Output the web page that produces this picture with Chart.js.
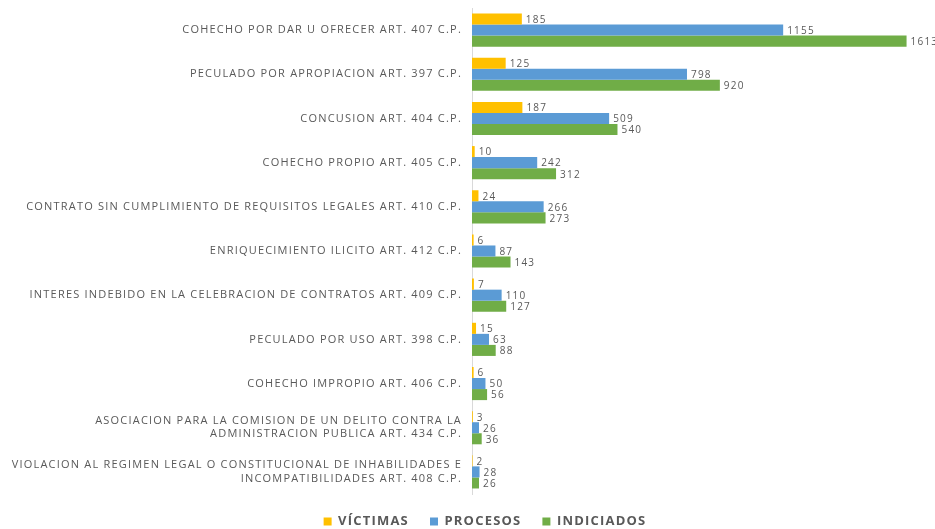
<!DOCTYPE html>
<html>
<head>
<meta charset="utf-8">
<script src="https://cdn.jsdelivr.net/npm/chart.js@4"></script>
<style>
  html, body { margin: 0; padding: 0; background: #fff; }
  #wrap { width: 935px; height: 529px; }
</style>
</head>
<body>
<div id="wrap"><canvas id="chart"></canvas></div>
<script>
// categories (top to bottom)
const categories = [
  'COHECHO POR DAR U OFRECER ART. 407 C.P.',
  'PECULADO POR APROPIACION ART. 397 C.P.',
  'CONCUSION ART. 404 C.P.',
  'COHECHO PROPIO ART. 405 C.P.',
  'CONTRATO SIN CUMPLIMIENTO DE REQUISITOS LEGALES ART. 410 C.P.',
  'ENRIQUECIMIENTO ILICITO ART. 412 C.P.',
  'INTERES INDEBIDO EN LA CELEBRACION DE CONTRATOS ART. 409 C.P.',
  'PECULADO POR USO ART. 398 C.P.',
  'COHECHO IMPROPIO ART. 406 C.P.',
  ['ASOCIACION PARA LA COMISION DE UN DELITO CONTRA LA', 'ADMINISTRACION PUBLICA ART. 434 C.P.'],
  ['VIOLACION AL REGIMEN LEGAL O CONSTITUCIONAL DE INHABILIDADES E', 'INCOMPATIBILIDADES ART. 408 C.P.']
];

const victimas   = [185, 125, 187, 10, 24, 6, 7, 15, 6, 3, 2];
const procesos   = [1155, 798, 509, 242, 266, 87, 110, 63, 50, 26, 28];
const indiciados = [1613, 920, 540, 312, 273, 143, 127, 88, 56, 36, 26];

// the original text is widely spaced
const spacing = {
  id: 'spacing',
  beforeLayout(chart) { chart.ctx.letterSpacing = '1.2px'; },
  beforeDraw(chart) { chart.ctx.letterSpacing = '1.2px'; },
  // legend sits a bit right of the canvas centre in the original
  afterLayout(chart) {
    chart.legend.left += 20;
    chart.legend.right += 20;
  }
};

// value labels at the end of each bar
const valueLabels = {
  id: 'valueLabels',
  afterDatasetsDraw(chart) {
    const ctx = chart.ctx;
    ctx.save();
    ctx.font = '10px "Open Sans", sans-serif';
    ctx.fillStyle = '#595959';
    ctx.textBaseline = 'middle';
    ctx.textAlign = 'left';
    chart.data.datasets.forEach((ds, i) => {
      chart.getDatasetMeta(i).data.forEach((bar, j) => {
        ctx.fillText(ds.data[j], bar.x + 4, bar.y + 1);
      });
    });
    ctx.restore();
  }
};

new Chart(document.getElementById('chart'), {
  type: 'bar',
  data: {
    labels: categories,
    datasets: [
      { label: 'VÍCTIMAS', data: victimas, backgroundColor: '#FFC000' },
      { label: 'PROCESOS', data: procesos, backgroundColor: '#5B9BD5' },
      { label: 'INDICIADOS', data: indiciados, backgroundColor: '#70AD47' }
    ]
  },
  options: {
    indexAxis: 'y',
    responsive: true,
    maintainAspectRatio: false,
    animation: false,
    datasets: { bar: { barPercentage: 1, categoryPercentage: 0.75 } },
    layout: { padding: { top: 8, right: 5, left: 0, bottom: -9 } },
    scales: {
      x: {
        display: false,
        min: 0,
        max: 1700
      },
      y: {
        afterFit(scale) {
          scale.width = 472;
          scale.paddingTop = 0;
          scale.paddingBottom = 0;
        },
        grid: { display: false, drawTicks: false },
        border: { display: true, color: '#D9D9D9', width: 1 },
        ticks: {
          padding: 10,
          color: '#595959',
          font: { family: '"Open Sans", sans-serif', size: 11 }
        }
      }
    },
    plugins: {
      legend: {
        position: 'bottom',
        labels: {
          boxWidth: 8,
          boxHeight: 8,
          padding: 21,
          color: '#595959',
          font: { family: '"Open Sans", sans-serif', size: 13, weight: 'bold' }
        }
      },
      tooltip: { enabled: false }
    }
  },
  plugins: [spacing, valueLabels]
});
</script>
</body>
</html>
